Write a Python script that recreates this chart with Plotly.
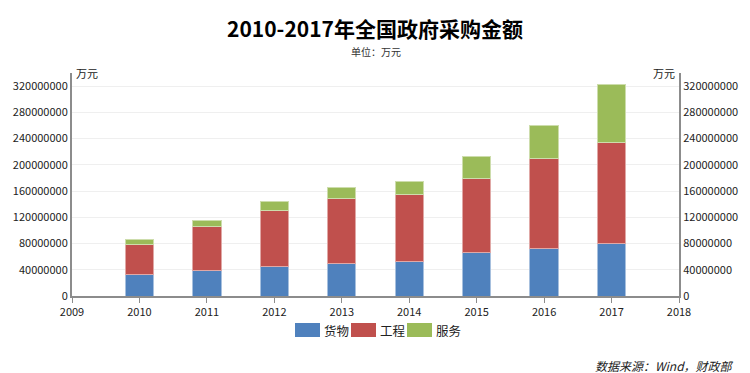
import plotly.graph_objects as go

years = [2010, 2011, 2012, 2013, 2014, 2015, 2016, 2017]
goods = [32500000, 39500000, 45500000, 49800000, 52800000, 66500000, 73000000, 80500000]
works = [46500000, 66500000, 85000000, 99500000, 102000000, 112500000, 137000000, 153000000]
services = [7000000, 9000000, 13000000, 16000000, 20500000, 33500000, 49500000, 89500000]
series_names = ["货物", "工程", "服务"]
colors = ["#4F81BD", "#C0504D", "#9BBB59"]
edge_colors = ["#A7C0DE", "#E0A8A6", "#CDDDAC"]
yticks = [0, 40000000, 80000000, 120000000, 160000000, 200000000, 240000000, 280000000, 320000000]
xticks = list(range(2009, 2019))

FONT = "Noto Sans CJK SC, Microsoft YaHei, sans-serif"

fig = go.Figure()
for name, vals, c, ec in zip(series_names, [goods, works, services], colors, edge_colors):
    fig.add_trace(go.Bar(x=years, y=vals, name=name, marker=dict(color=c, line=dict(color=ec, width=1)),
                         width=0.42, showlegend=False))
# invisible trace to display the right axis
fig.add_trace(go.Scatter(x=[2009], y=[0], yaxis="y2", mode="markers", marker=dict(opacity=0),
                         showlegend=False, hoverinfo="skip"))

axis_common = dict(range=[0, 340000000], tickvals=yticks, ticktext=[str(v) for v in yticks],
                   showline=True, linecolor="#8c8c8c", linewidth=2,
                   tickfont=dict(family=FONT, size=11, color="#222222"), zeroline=False)

fig.update_layout(
    width=750, height=373,
    margin=dict(l=72, r=71, t=73, b=77),
    paper_bgcolor="white", plot_bgcolor="white",
    barmode="stack",
    font=dict(family=FONT, color="#222222"),
    xaxis=dict(range=[2009, 2018], tickvals=xticks, ticktext=[str(v) for v in xticks],
               showline=True, linecolor="#8c8c8c", linewidth=2, showgrid=False,
               ticks="outside", ticklen=5, tickcolor="#8c8c8c", zeroline=False,
               tickfont=dict(family=FONT, size=11, color="#222222")),
    yaxis=dict(**axis_common, showgrid=True, gridcolor="#efefef", gridwidth=1, side="left", ticks=""),
    yaxis2=dict(**axis_common, overlaying="y", side="right", showgrid=False, ticks=""),
    title=dict(text="<b>2010-2017年全国政府采购金额</b>", x=0.5, xanchor="center", y=0.92, yanchor="middle",
               font=dict(family=FONT, size=21, color="#000000")),
)

fig.add_annotation(text="单位：万元", xref="paper", yref="paper", x=0.5, y=1.0 + (73 - 52) / 223.0,
                   showarrow=False, font=dict(family=FONT, size=10, color="#333333"),
                   xanchor="center", yanchor="middle")
fig.add_annotation(text="万元", xref="paper", yref="paper", x=0.0, y=1.0, xshift=2,
                   showarrow=False, font=dict(family=FONT, size=11, color="#222222"),
                   xanchor="left", yanchor="middle")
fig.add_annotation(text="万元", xref="paper", yref="paper", x=1.0, y=1.0, xshift=-2,
                   showarrow=False, font=dict(family=FONT, size=11, color="#222222"),
                   xanchor="right", yanchor="middle")
fig.add_annotation(text="<i>数据来源：Wind，财政部</i>", xref="paper", yref="paper", x=1.0, y=0, yshift=-69,
                   xshift=57, showarrow=False, font=dict(family=FONT, size=12, color="#222222"),
                   xanchor="right", yanchor="middle")

# manual legend
leg_x = [295, 351, 407]
for lx, name, c in zip(leg_x, series_names, colors):
    fig.add_shape(type="rect", xref="paper", yref="paper",
                  x0=(lx - 72) / 607.0, x1=(lx + 25 - 72) / 607.0,
                  y0=-(323 - 296) / 223.0, y1=-(337 - 296) / 223.0,
                  fillcolor=c, line=dict(width=0))
    fig.add_annotation(text=name, xref="paper", yref="paper", x=(lx + 27 - 72) / 607.0,
                       y=-(330 - 296) / 223.0, showarrow=False, xanchor="left", yanchor="middle",
                       font=dict(family=FONT, size=12.5, color="#222222"))

fig.write_html("out.html", config={"displayModeBar": False},
               post_script="document.body.style.margin='0';document.body.style.overflow='hidden';")
